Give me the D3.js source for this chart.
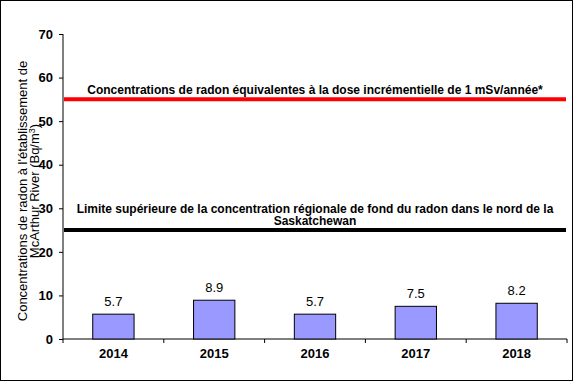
<!DOCTYPE html>
<html><head><meta charset="utf-8">
<script src="https://cdn.jsdelivr.net/npm/d3@7"></script>
<style>
body{margin:0;background:#fff;}
svg{display:block;font-family:"Liberation Sans",Arial,sans-serif;}
</style></head>
<body><svg id="c" width="573" height="381"></svg>
<script>
const years = ["2014","2015","2016","2017","2018"];
const values = [5.7, 8.9, 5.7, 7.5, 8.2];
const yTicks = [0,10,20,30,40,50,60,70];
const refLines = [
  {value:55, color:"#ff0000", label:["Concentrations de radon équivalentes à la dose incrémentielle de 1 mSv/année*"]},
  {value:25, color:"#000000", label:["Limite supérieure de la concentration régionale de fond du radon dans le nord de la","Saskatchewan"]}
];

const svg = d3.select("#c");
svg.append("rect").attr("x",0.5).attr("y",0.5).attr("width",572).attr("height",380)
  .attr("fill","#fff").attr("stroke","#000");

const L=63, R=567, T=34, B=339;
const x = d3.scaleBand().domain(years).range([L,R]);
const y = d3.scaleLinear().domain([0,70]).range([B,T]);

// y axis
const ya = svg.append("g").attr("transform",`translate(${L},0)`)
  .call(d3.axisLeft(y).tickValues(yTicks).tickSize(4).tickPadding(6).tickFormat(d3.format("d")));
ya.select(".domain").attr("stroke","#000").attr("d",`M0,${T}V${B}`);
ya.selectAll("line").attr("stroke","#000");
ya.selectAll("text").attr("font-size",13).attr("font-weight","bold").attr("fill","#000")
  .attr("font-family","Liberation Sans, Arial, sans-serif");

// x axis
const xa = svg.append("g").attr("transform",`translate(0,${B})`)
  .call(d3.axisBottom(x).tickSize(0).tickPadding(10));
xa.select(".domain").attr("stroke","#000").attr("d",`M${L},0H${R}`);
xa.selectAll("text").attr("font-size",13).attr("font-weight","bold").attr("fill","#000")
  .attr("font-family","Liberation Sans, Arial, sans-serif");
const bounds = years.map(d=>x(d)).concat([R]);
svg.append("g").selectAll("line").data(bounds).join("line")
  .attr("x1",d=>d).attr("x2",d=>d).attr("y1",B).attr("y2",B+4).attr("stroke","#000");

// bars
const bw = x.bandwidth()*0.41;
svg.append("g").selectAll("rect").data(values).join("rect")
  .attr("x",(d,i)=>x(years[i])+x.bandwidth()/2-bw/2)
  .attr("y",d=>y(d)).attr("width",bw).attr("height",d=>B-y(d))
  .attr("fill","#9999ff").attr("stroke","#000").attr("stroke-width",1);

svg.append("g").selectAll("text").data(values).join("text")
  .attr("x",(d,i)=>x(years[i])+x.bandwidth()/2).attr("y",d=>y(d)-8)
  .attr("text-anchor","middle").attr("font-size",13).text(d=>d.toFixed(1));

// reference lines
refLines.forEach(r=>{
  svg.append("line").attr("x1",L+1).attr("x2",R-1).attr("y1",y(r.value)).attr("y2",y(r.value))
    .attr("stroke",r.color).attr("stroke-width",4);
  const n=r.label.length;
  r.label.forEach((t,i)=>{
    svg.append("text").attr("x",315).attr("y",y(r.value)-5-(n-1-i)*12.5)
      .attr("text-anchor","middle").attr("font-size",12).attr("font-weight","bold").text(t);
  });
});

// y title
const yt = svg.append("text").attr("transform","translate(27,191) rotate(-90)")
  .attr("text-anchor","middle").attr("font-size",13);
yt.append("tspan").attr("x",0).attr("dy",0).text("Concentrations de radon à l'établissement de");
yt.append("tspan").attr("x",0).attr("dy",12).text("McArthur River  (Bq/m");
yt.append("tspan").attr("dy",-4).attr("font-size",9).text("3");
yt.append("tspan").attr("dy",4).text(")");
</script></body></html>
